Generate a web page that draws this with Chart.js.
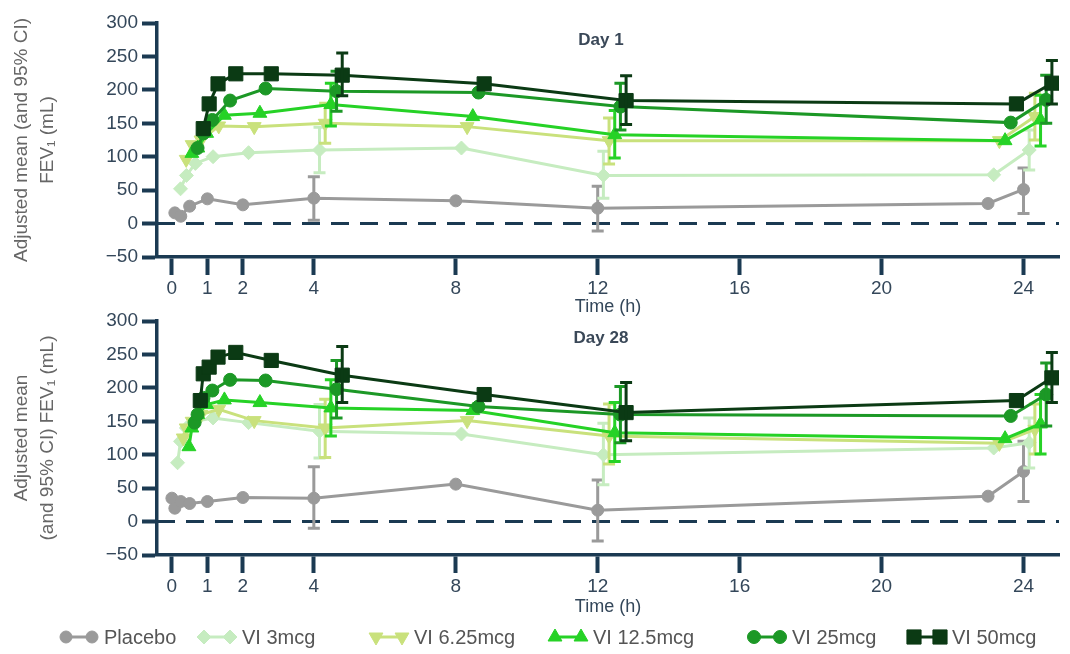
<!DOCTYPE html>
<html>
<head>
<meta charset="utf-8">
<title>Adjusted mean FEV1 over 24 h, Day 1 and Day 28</title>
<script src="https://cdn.jsdelivr.net/npm/chart.js@4.4.1/dist/chart.umd.min.js"></script>
<style>
  html, body { margin: 0; padding: 0; background: #fff; }
  body { width: 1070px; height: 654px; position: relative; overflow: hidden; font-family: 'Liberation Sans', Arial, sans-serif; }
  .panel { position: absolute; left: 0; }
  #day1Chart { top: 0; }
  #day28Chart { top: 300px; }
  #legend { position: absolute; left: 0; top: 625px; width: 1070px; height: 24px; }
  .item { position: absolute; top: 0; height: 24px; display: flex; align-items: center; color: #555; font-size: 20px; white-space: nowrap; }
  .item canvas { margin-right: 2px; }
</style>
</head>
<body>
<canvas id="day1Chart" class="panel" width="1070" height="318"></canvas>
<canvas id="day28Chart" class="panel" width="1070" height="318"></canvas>
<div id="legend"></div>

<script>
// sampling times (h)
const timesDay1 = [0.083, 0.25, 0.5, 1, 2, 4, 8, 12, 23, 24];
const timesDay28 = [0, 0.083, 0.25, 0.5, 1, 2, 4, 8, 12, 23, 24];
const ciTimes = [4, 12, 24];
const xTickValues = [0, 1, 2, 4, 8, 12, 16, 20, 24];

const seriesNames = ['Placebo', 'VI 3mcg', 'VI 6.25mcg', 'VI 12.5mcg', 'VI 25mcg', 'VI 50mcg'];

// Day 1 adjusted means (mL)
const day1Placebo = [16, 11, 26, 37, 28, 38, 34, 23, 30, 51];
const day1Vi3 = [52, 72, 90, 100, 106, 110, 113, 72, 73, 110];
const day1Vi6 = [96, 118, 125, 146, 145, 150, 145, 124, 124, 160];
const day1Vi12 = [105, 113, 135, 162, 165, 178, 160, 133, 124, 155];
const day1Vi25 = [113, 135, 155, 184, 202, 198, 196, 175, 151, 185];
const day1Vi50 = [142, 179, 209, 224, 224, 222, 209, 184, 179, 210];

// Day 1 95% CI at 4, 12, 24 h
const day1PlaceboCI = [[5, 70], [-11, 56], [15, 83]];
const day1Vi3CI = [[76, 144], [38, 108], [80, 140]];
const day1Vi6CI = [[120, 180], [89, 158], [125, 195]];
const day1Vi12CI = [[146, 210], [98, 169], [116, 192]];
const day1Vi25CI = [[168, 228], [140, 210], [150, 222]];
const day1Vi50CI = [[191, 255], [148, 221], [179, 244]];

// Day 28 adjusted means (mL)
const day28Placebo = [35, 20, 30, 27, 30, 36, 35, 56, 17, 38, 75];
const day28Vi3 = [88, 120, 140, 150, 155, 148, 135, 131, 100, 110, 118];
const day28Vi6 = [125, 140, 150, 160, 168, 151, 140, 151, 128, 117, 138];
const day28Vi12 = [112, 140, 160, 175, 182, 178, 170, 166, 133, 124, 146];
const day28Vi25 = [148, 160, 185, 196, 212, 211, 198, 172, 160, 158, 190];
const day28Vi50 = [181, 221, 231, 246, 253, 241, 219, 190, 163, 181, 215];

// Day 28 95% CI at 4, 12, 24 h
const day28PlaceboCI = [[-10, 82], [-29, 62], [30, 120]];
const day28Vi3CI = [[95, 175], [55, 147], [80, 155]];
const day28Vi6CI = [[96, 183], [86, 176], [101, 176]];
const day28Vi12CI = [[128, 212], [90, 178], [101, 190]];
const day28Vi25CI = [[155, 241], [118, 202], [143, 237]];
const day28Vi50CI = [[178, 262], [121, 208], [178, 253]];

// styling
const seriesColors = ['#9a9a9a', '#c6ecc0', '#c9e17c', '#26d226', '#1c9826', '#0b3a14'];
const seriesMarkers = ['circle', 'rectRot', 'triangle', 'triangle', 'circle', 'rect'];
const markerRotation = [0, 0, 180, 0, 0, 0];
const markerRadius = [6, 7, 8, 8, 6.5, 10];
const dodgeH = 0.16;   // horizontal nudge between groups, like the original
const axisColor = '#1b3a52';
const tickColor = '#34475a';
const fontFamily = '"Liberation Sans", Arial, sans-serif';

function buildDatasets(times, means, cis) {
    return means.map((vals, i) => ({
        label: seriesNames[i],
        data: vals.map((v, k) => ({ x: times[k] + i * dodgeH, y: v })),
        ci: cis[i],
        ciX: ciTimes.map(t => t + i * dodgeH),
        borderColor: seriesColors[i],
        backgroundColor: seriesColors[i],
        pointBackgroundColor: seriesColors[i],
        pointBorderColor: seriesColors[i],
        borderWidth: 3,
        pointStyle: seriesMarkers[i],
        pointRotation: markerRotation[i],
        pointRadius: markerRadius[i],
        pointBorderWidth: 1,
        tension: 0,
        order: means.length - i
    }));
}

// dashed reference line at 0
const zeroLine = {
    id: 'zeroLine',
    beforeDatasetsDraw(chart) {
        const { ctx, chartArea, scales: { y } } = chart;
        const py = y.getPixelForValue(0);
        ctx.save();
        ctx.strokeStyle = axisColor;
        ctx.lineWidth = 3;
        ctx.setLineDash([18, 11]);
        ctx.beginPath();
        ctx.moveTo(chartArea.left, py);
        ctx.lineTo(chartArea.right, py);
        ctx.stroke();
        ctx.restore();
    }
};

// 95% CI whiskers, drawn right after their own series
const ciBars = {
    id: 'ciBars',
    afterDatasetDraw(chart, args) {
        const ds = chart.data.datasets[args.index];
        if (!ds.ci) return;
        const { ctx, scales: { x, y } } = chart;
        ctx.save();
        ctx.strokeStyle = ds.borderColor;
        ctx.lineWidth = 3;
        ds.ci.forEach((pair, k) => {
            const px = x.getPixelForValue(ds.ciX[k]);
            const lo = y.getPixelForValue(pair[0]);
            const hi = y.getPixelForValue(pair[1]);
            ctx.beginPath();
            ctx.moveTo(px, lo); ctx.lineTo(px, hi);
            ctx.moveTo(px - 6, lo); ctx.lineTo(px + 6, lo);
            ctx.moveTo(px - 6, hi); ctx.lineTo(px + 6, hi);
            ctx.stroke();
        });
        ctx.restore();
    }
};

// "Day 1" / "Day 28" label inside the plot area
const panelLabel = {
    id: 'panelLabel',
    afterDraw(chart, args, opts) {
        const { ctx, chartArea } = chart;
        ctx.save();
        ctx.fillStyle = '#3a4858';
        ctx.font = 'bold 17px ' + fontFamily;
        ctx.textAlign = 'center';
        ctx.textBaseline = 'middle';
        ctx.fillText(opts.text, (chartArea.left + chartArea.right) / 2 - 7, chartArea.top + 17);
        ctx.restore();
    }
};

function makeChart(canvasId, datasets, panelTitle, yTitleLines, areaTop, areaBottom) {
    const canvas = document.getElementById(canvasId);
    const xHeight = canvas.height - areaBottom;
    return new Chart(canvas, {
        type: 'line',
        data: { datasets: datasets },
        options: {
            responsive: false,
            animation: false,
            layout: { padding: { top: areaTop, right: 0, bottom: 0, left: 0 } },
            plugins: {
                legend: { display: false },
                tooltip: { enabled: false },
                panelLabel: { text: panelTitle }
            },
            scales: {
                x: {
                    type: 'linear',
                    min: -0.42,
                    max: 25,
                    afterBuildTicks: s => { s.ticks = xTickValues.map(v => ({ value: v })); },
                    afterFit: s => { s.height = xHeight; },
                    grid: { drawOnChartArea: false, tickLength: 18, tickWidth: 4, tickColor: axisColor },
                    border: { color: axisColor, width: 3.5 },
                    ticks: { color: tickColor, font: { size: 19, family: fontFamily }, padding: 2, autoSkip: false, maxRotation: 0 },
                    title: { display: true, text: 'Time (h)', color: tickColor, font: { size: 18, family: fontFamily }, padding: 0 }
                },
                y: {
                    min: -50,
                    max: 300,
                    afterFit: s => { s.width = 157; },
                    grid: { drawOnChartArea: false, tickLength: 15, tickWidth: 4, tickColor: axisColor },
                    border: { color: axisColor, width: 3.5 },
                    ticks: {
                        stepSize: 50,
                        color: tickColor,
                        padding: 4,
                        font: { size: 19, family: fontFamily },
                        callback: v => String(v).replace('-', '\u2212')
                    },
                    title: {
                        display: true,
                        text: yTitleLines,
                        color: '#666',
                        font: { size: 19, lineHeight: 1.35, family: fontFamily },
                        padding: { top: 9, bottom: 0 }
                    }
                }
            }
        },
        plugins: [zeroLine, ciBars, panelLabel]
    });
}

makeChart('day1Chart',
    buildDatasets(timesDay1,
        [day1Placebo, day1Vi3, day1Vi6, day1Vi12, day1Vi25, day1Vi50],
        [day1PlaceboCI, day1Vi3CI, day1Vi6CI, day1Vi12CI, day1Vi25CI, day1Vi50CI]),
    'Day 1', ['Adjusted mean (and 95% CI)', 'FEV\u2081 (mL)'], 23, 257);

makeChart('day28Chart',
    buildDatasets(timesDay28,
        [day28Placebo, day28Vi3, day28Vi6, day28Vi12, day28Vi25, day28Vi50],
        [day28PlaceboCI, day28Vi3CI, day28Vi6CI, day28Vi12CI, day28Vi25CI, day28Vi50CI]),
    'Day 28', ['Adjusted mean', '(and 95% CI) FEV\u2081 (mL)'], 21, 255);

// legend: marker - line - marker, then label
const legendLefts = [56, 194, 366, 545, 744, 904];
const legendEl = document.getElementById('legend');
seriesNames.forEach((name, i) => {
    const item = document.createElement('div');
    item.className = 'item';
    item.style.left = legendLefts[i] + 'px';
    const c = document.createElement('canvas');
    c.width = 46; c.height = 24;
    const ctx = c.getContext('2d');
    ctx.strokeStyle = seriesColors[i];
    ctx.fillStyle = seriesColors[i];
    ctx.lineWidth = 3;
    ctx.beginPath(); ctx.moveTo(10, 12); ctx.lineTo(36, 12); ctx.stroke();
    const pt = { pointStyle: seriesMarkers[i], rotation: markerRotation[i], radius: markerRadius[i], borderWidth: 1 };
    ctx.lineWidth = 1;
    Chart.helpers.drawPoint(ctx, pt, 10, 12);
    Chart.helpers.drawPoint(ctx, pt, 36, 12);
    item.appendChild(c);
    const span = document.createElement('span');
    span.textContent = name;
    item.appendChild(span);
    legendEl.appendChild(item);
});
</script>
</body>
</html>
